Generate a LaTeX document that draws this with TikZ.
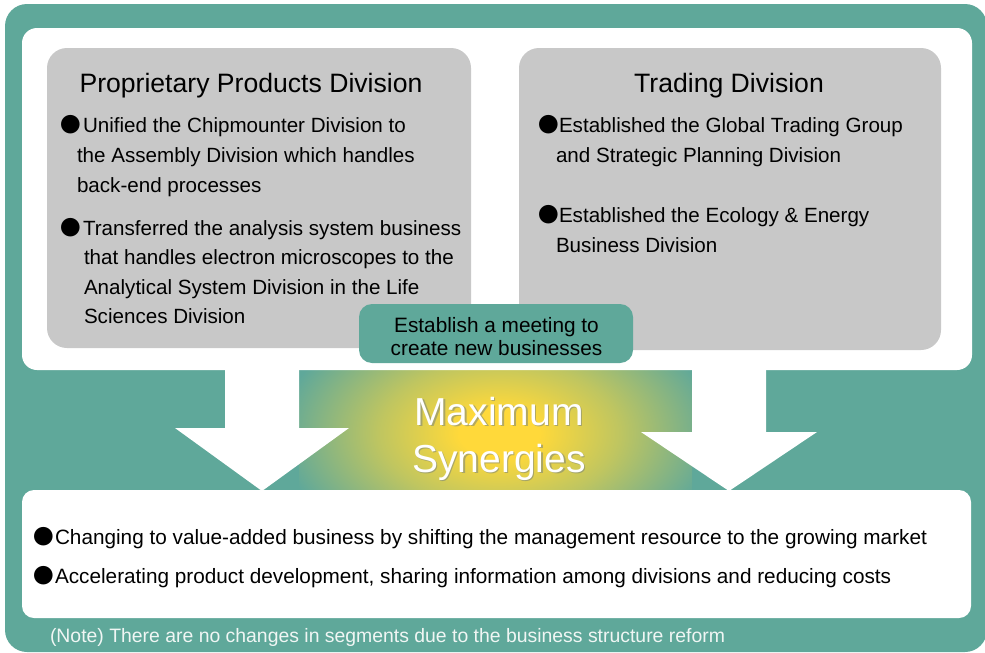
\documentclass[tikz,border=0pt]{standalone}
\usepackage{fontspec}
\setmainfont{Liberation Sans}
\newfontfamily\cjkfont{Noto Sans CJK JP}

\definecolor{frameteal}{RGB}{95,168,154}
\definecolor{panelgray}{RGB}{200,200,200}
\definecolor{glowcore}{RGB}{255,217,58}
\definecolor{notewhite}{RGB}{240,246,244}
\definecolor{shadowgray}{RGB}{120,130,125}

\pgfdeclareradialshading{synergyglow}{\pgfpoint{0bp}{0bp}}{%
  color(0bp)=(glowcore); color(4bp)=(glowcore);
  color(12bp)=(glowcore!60!frameteal);
  color(22bp)=(frameteal); color(50bp)=(frameteal)}

\tikzset{
  txt/.style={inner sep=0pt, outer sep=0pt, anchor=base west},
  ctxt/.style={inner sep=0pt, outer sep=0pt, anchor=base},
  headfont/.style={font=\fontsize{26.6}{30}\selectfont},
  bodyfont/.style={font=\fontsize{20.6}{24}\selectfont},
  bottomfont/.style={font=\fontsize{20.75}{24}\selectfont},
  meetfont/.style={font=\fontsize{20.8}{24}\selectfont},
  bigfont/.style={font=\fontsize{39}{44}\selectfont},
  notefont/.style={font=\fontsize{19.4}{22}\selectfont},
  dot/.style={inner sep=0pt, outer sep=0pt, anchor=base, font=\cjkfont\fontsize{20.6}{24}\selectfont},
  whitearrow/.style={fill=white, draw=none},
}

\begin{document}
\begin{tikzpicture}[x=1pt,y=-1pt]
\useasboundingbox (0,0) rectangle (985,653);

% outer frame
\fill[frameteal, rounded corners=22pt] (5,4) rectangle (987,652);

% glowing band between the two arrows
\begin{scope}
  \clip (299,368) rectangle (692,491);
  \shade[shading=synergyglow] (499,433) ellipse [x radius=250pt, y radius=150pt];
\end{scope}

% white upper panel
\fill[white, rounded corners=15pt] (22,28) rectangle (972,370);

% two white arrows pointing down
\fill[whitearrow] (225,360) -- (299,360) -- (299,428) -- (349,428) -- (262,491)
  -- (175,428) -- (225,428) -- cycle;
\fill[whitearrow] (692,360) -- (766,360) -- (766,432) -- (817,432) -- (729,491)
  -- (641,432) -- (692,432) -- cycle;

% white lower panel
\fill[white, rounded corners=12pt] (22,490) rectangle (971,618);

% gray division panels
\fill[panelgray, rounded corners=20pt] (47,48) rectangle (471,348);
\fill[panelgray, rounded corners=20pt] (519,48) rectangle (941,350);

% meeting box
\fill[frameteal, rounded corners=13pt] (359,304) rectangle (633,363);

% left panel text
\node[ctxt, headfont] (ppdTitle) at (251,92) {Proprietary Products Division};
\node[dot] (ppdDotA) at (71,132) {●};
\node[txt, bodyfont] (ppdA1) at (83,132) {Unified the Chipmounter Division to};
\node[txt, bodyfont] (ppdA2) at (77,162) {the Assembly Division which handles};
\node[txt, bodyfont] (ppdA3) at (77,192) {back-end processes};
\node[dot] (ppdDotB) at (71,235) {●};
\node[txt, bodyfont] (ppdB1) at (83,235) {Transferred the analysis system business};
\node[txt, bodyfont] (ppdB2) at (84,264.5) {that handles electron microscopes to the};
\node[txt, bodyfont] (ppdB3) at (84,294) {Analytical System Division in the Life};
\node[txt, bodyfont] (ppdB4) at (84,323.5) {Sciences Division};

% right panel text
\node[ctxt, headfont] (trdTitle) at (729,92) {Trading Division};
\node[dot] (trdDotA) at (549,132) {●};
\node[txt, bodyfont] (trdA1) at (559,132) {Established the Global Trading Group};
\node[txt, bodyfont] (trdA2) at (556,162) {and Strategic Planning Division};
\node[dot] (trdDotB) at (549,222) {●};
\node[txt, bodyfont] (trdB1) at (559,222) {Established the Ecology \& Energy};
\node[txt, bodyfont] (trdB2) at (556,252) {Business Division};

% meeting box text
\node[ctxt, meetfont] (meet1) at (496.5,332) {Establish a meeting to};
\node[ctxt, meetfont] (meet2) at (496.5,355) {create new businesses};

% centre caption with a soft shadow
\node[ctxt, bigfont, text=shadowgray, opacity=0.55] (maxShadow) at (500.5,426.5) {Maximum};
\node[ctxt, bigfont, text=shadowgray, opacity=0.55] (synShadow) at (500.5,473.5) {Synergies};
\node[ctxt, bigfont, text=white] (maxText) at (499,425) {Maximum};
\node[ctxt, bigfont, text=white] (synText) at (499,472) {Synergies};

% lower panel text
\node[dot] (resDotA) at (44,544) {●};
\node[txt, bottomfont] (resA) at (55,544) {Changing to value-added business by shifting the management resource to the growing market};
\node[dot] (resDotB) at (44,583) {●};
\node[txt, bottomfont] (resB) at (55,583) {Accelerating product development, sharing information among divisions and reducing costs};

% footnote
\node[txt, notefont, text=notewhite] (note) at (50,642) {(Note) There are no changes in segments due to the business structure reform};
\end{tikzpicture}
\end{document}
